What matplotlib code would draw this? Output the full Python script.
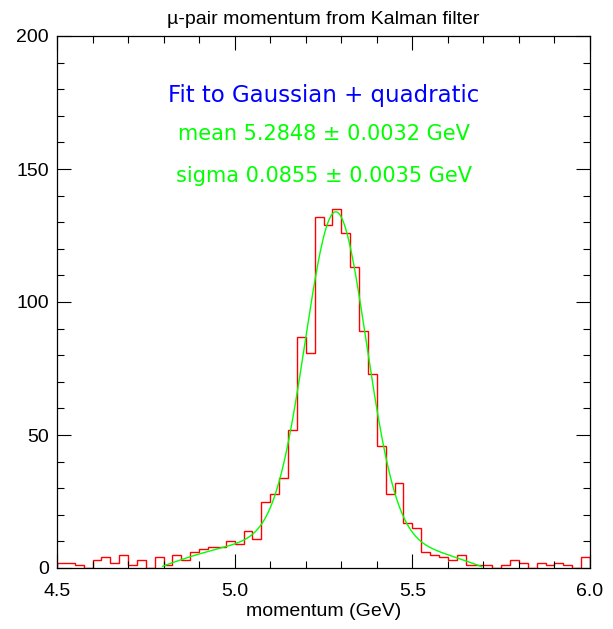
import numpy as np
import matplotlib
matplotlib.use("Agg")
import matplotlib.pyplot as plt
from matplotlib.ticker import MultipleLocator

# histogram: 60 bins of 0.025 GeV from 4.5 to 6.0
bin_lo, bin_hi, n_bins = 4.5, 6.0, 60
counts = [
    2, 2, 1, 0, 3, 4, 2, 5, 1, 3,
    0, 4, 1, 5, 3, 6, 7, 8, 8, 10,
    9, 14, 11, 25, 28, 34, 52, 87, 81, 132,
    129, 135, 126, 113, 89, 73, 46, 28, 32, 17,
    15, 6, 5, 4, 3, 5, 1, 1, 1, 0,
    1, 3, 2, 0, 2, 1, 2, 1, 0, 4,
]

# fit parameters (Gaussian + quadratic background)
fit_mean, fit_mean_err = 5.2848, 0.0032
fit_sigma, fit_sigma_err = 0.0855, 0.0035
fit_amp = 122.0
bg_peak, bg_center, bg_halfwidth = 12.0, 5.245, 0.46
fit_lo, fit_hi = 4.7975, 5.695


def fit_func(x):
    gauss = fit_amp * np.exp(-0.5 * ((x - fit_mean) / fit_sigma) ** 2)
    quad = bg_peak * (1.0 - ((x - bg_center) / bg_halfwidth) ** 2)
    return gauss + quad


plt.rcParams["font.family"] = ["Liberation Sans", "DejaVu Sans"]

fig = plt.figure(figsize=(6.13, 6.29), dpi=100)
ax = fig.add_axes([57 / 613, 1 - 568 / 629, 533 / 613, 532 / 629])

edges = np.linspace(bin_lo, bin_hi, n_bins + 1)
ax.stairs(counts, edges, color="#ff0000", linewidth=1.0)

xf = np.linspace(fit_lo, fit_hi, 400)
ax.plot(xf, fit_func(xf), color="#00ff00", linewidth=1.0)

ax.set_xlim(bin_lo, bin_hi)
ax.set_ylim(0, 200)
ax.xaxis.set_major_locator(MultipleLocator(0.5))
ax.xaxis.set_minor_locator(MultipleLocator(0.1))
ax.yaxis.set_major_locator(MultipleLocator(50))
ax.yaxis.set_minor_locator(MultipleLocator(10))
ax.xaxis.set_major_formatter(plt.FuncFormatter(lambda v, p: "%.1f" % v))
ax.tick_params(which="both", direction="in", top=True, right=True,
               labelsize=14, colors="black")
ax.tick_params(which="major", length=10, width=0.8)
ax.tick_params(which="minor", length=5, width=0.8)
ax.tick_params(axis="x", pad=11)
ax.tick_params(axis="y", pad=6)
for s in ax.spines.values():
    s.set_linewidth(0.9)

ax.set_xlabel("momentum (GeV)", fontsize=14, labelpad=2)
ax.set_title("\u00b5-pair momentum from Kalman filter", fontsize=14, pad=9)

txt_font = ["DejaVu Sans"]
ax.text(0.5, 177.5, "Fit to Gaussian + quadratic", color="#0000ff",
        fontsize=16.5, ha="center", va="center", family=txt_font,
        transform=ax.get_yaxis_transform())
ax.text(0.5, 163, "mean %.4f \u00b1 %.4f GeV" % (fit_mean, fit_mean_err),
        color="#00ff00", fontsize=15, ha="center", va="center",
        family=txt_font, transform=ax.get_yaxis_transform())
ax.text(0.5, 147.5, "sigma %.4f \u00b1 %.4f GeV" % (fit_sigma, fit_sigma_err),
        color="#00ff00", fontsize=15, ha="center", va="center",
        family=txt_font, transform=ax.get_yaxis_transform())

fig.savefig("out.png", dpi=100)
